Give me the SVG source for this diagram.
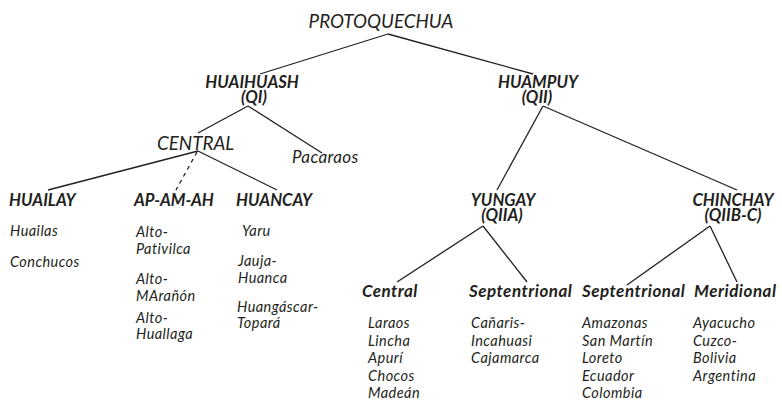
<svg xmlns="http://www.w3.org/2000/svg" width="782" height="408" viewBox="0 0 782 408">
<style>
text{font-family:Lato,"Noto Sans","Liberation Sans",sans-serif;font-style:italic;fill:#231f20}
.t{font-size:18.8px}
.p{font-size:17px;letter-spacing:0.4px}
.b{font-size:16.7px;font-weight:bold}
.c{font-size:16.7px;font-weight:bold}
.s{font-size:17px;font-weight:bold;letter-spacing:0.5px}
.l{font-size:14.5px;letter-spacing:0.45px}
.m{text-anchor:middle}
.e line{stroke:#231f20;stroke-width:1.3}
.d{stroke-dasharray:4 4}
</style>
<rect width="782" height="408" fill="#fff"/>
<g class="e" id="connectors">
<line x1="388" y1="34" x2="260" y2="74"/>
<line x1="388" y1="34" x2="533" y2="74"/>
<line x1="248" y1="106" x2="198" y2="133"/>
<line x1="248" y1="106" x2="322" y2="153"/>
<line x1="198" y1="151" x2="48" y2="190"/>
<line x1="198" y1="151" x2="277" y2="190"/>
<line class="d" x1="197" y1="152" x2="176" y2="190"/>
<line x1="543" y1="106" x2="497" y2="190"/>
<line x1="543" y1="106" x2="737" y2="190"/>
<line x1="483" y1="226" x2="397" y2="282"/>
<line x1="483" y1="226" x2="527" y2="282"/>
<line x1="710" y1="226" x2="627" y2="285"/>
<line x1="710" y1="226" x2="737" y2="282"/>
</g>
<g id="protoquechua"><text class="t m" x="381" y="28">PROTOQUECHUA</text></g>
<g id="huaihuash"><text class="b m" x="252" y="88">HUAIHUASH</text><text class="b m" x="254" y="103">(QI)</text></g>
<g id="huampuy"><text class="b m" x="538" y="88">HUAMPUY</text><text class="b m" x="537" y="103">(QII)</text></g>
<g id="central"><text class="t" x="157" y="150">CENTRAL</text></g>
<g id="pacaraos"><text class="p" x="292" y="163">Pacaraos</text></g>
<g id="huailay"><text class="c" x="9" y="206">HUAILAY</text>
<text class="l" x="10" y="236">Huailas</text><text class="l" x="10" y="267">Conchucos</text></g>
<g id="apamah"><text class="c" x="134" y="206">AP-AM-AH</text>
<text class="l" x="136" y="237">Alto-</text><text class="l" x="136" y="254">Pativilca</text>
<text class="l" x="136" y="284">Alto-</text><text class="l" x="136" y="301">MArañón</text>
<text class="l" x="136" y="323">Alto-</text><text class="l" x="136" y="339">Huallaga</text></g>
<g id="huancay"><text class="c" x="236" y="206">HUANCAY</text>
<text class="l" x="242" y="236">Yaru</text>
<text class="l" x="238" y="266">Jauja-</text><text class="l" x="238" y="283">Huanca</text>
<text class="l" x="237" y="312">Huangáscar-</text><text class="l" x="237" y="328">Topará</text></g>
<g id="yungay"><text class="b m" x="503" y="206">YUNGAY</text><text class="b m" x="502" y="221">(QIIA)</text></g>
<g id="chinchay"><text class="b m" x="733" y="206">CHINCHAY</text><text class="b m" x="733" y="221">(QIIB-C)</text></g>
<g id="yungay-central"><text class="s" x="362" y="297">Central</text>
<text class="l" x="368" y="328">Laraos</text><text class="l" x="368" y="346">Lincha</text><text class="l" x="368" y="363">Apurí</text><text class="l" x="368" y="381">Chocos</text><text class="l" x="368" y="398">Madeán</text></g>
<g id="yungay-septentrional"><text class="s" x="469" y="297">Septentrional</text>
<text class="l" x="471" y="328">Cañaris-</text><text class="l" x="471" y="346">Incahuasi</text><text class="l" x="471" y="363">Cajamarca</text></g>
<g id="chinchay-septentrional"><text class="s" x="582" y="297">Septentrional</text>
<text class="l" x="582" y="328">Amazonas</text><text class="l" x="582" y="346">San Martín</text><text class="l" x="582" y="363">Loreto</text><text class="l" x="582" y="381">Ecuador</text><text class="l" x="582" y="398">Colombia</text></g>
<g id="meridional"><text class="s" x="694" y="297">Meridional</text>
<text class="l" x="693" y="328">Ayacucho</text><text class="l" x="693" y="346">Cuzco-</text><text class="l" x="693" y="363">Bolivia</text><text class="l" x="693" y="381">Argentina</text></g>
</svg>
